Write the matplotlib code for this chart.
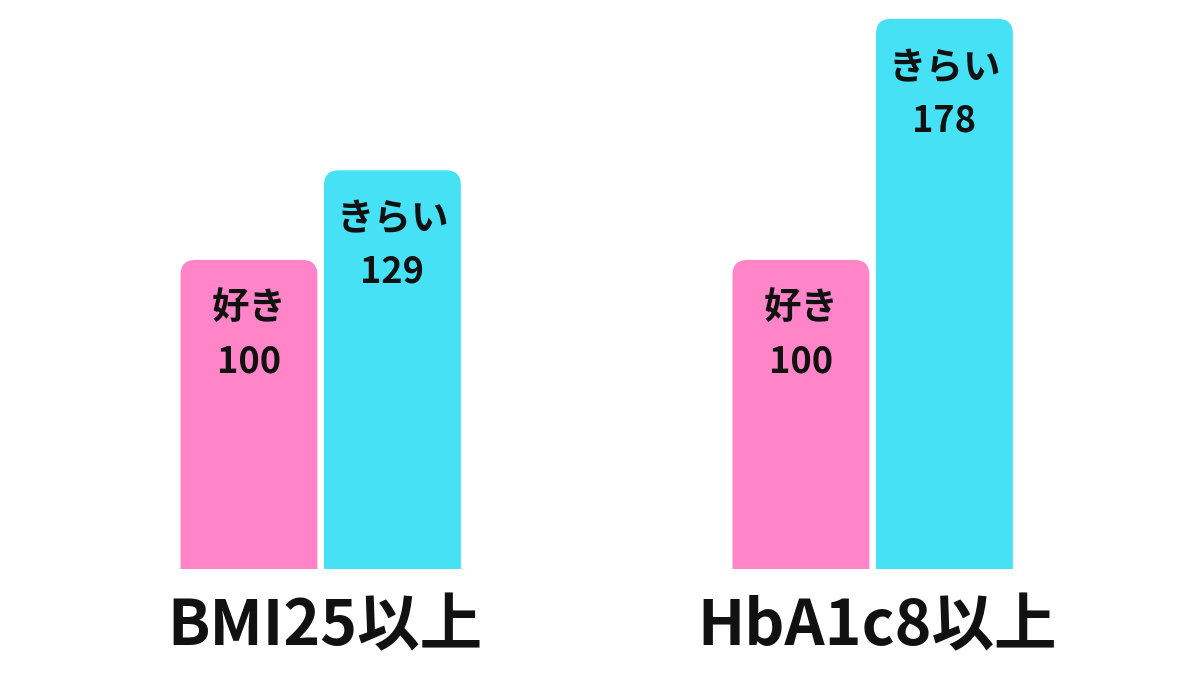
import numpy as np
import matplotlib
matplotlib.use('Agg')
import matplotlib.pyplot as plt
import matplotlib.patches as mpatches
import matplotlib.transforms as mtransforms

plt.rcParams['font.family'] = ['Noto Sans CJK JP', 'DejaVu Sans']

groups = ['BMI25以上', 'HbA1c8以上']
series_names = ['好き', 'きらい']
like_values = [100, 100]
dislike_values = [129, 178]
colors = ['#ff85c8', '#46e1f5']

fig = plt.figure(figsize=(12, 6.75), dpi=100)
ax = fig.add_axes([0, 0, 1, 1])
ax.set_xlim(-0.581, 1.593)
ax.set_ylim(-34.3, 184.1)
ax.axis('off')

x = np.arange(len(groups))
width = 0.248
offset = 0.130

bars_like = ax.bar(x - offset, like_values, width, color=colors[0])
bars_dislike = ax.bar(x + offset, dislike_values, width, color=colors[1])

# rounded top corners: swap each plain bar for a rounded one, clipped at y=0
fig.canvas.draw()
px_x = ax.transData.transform((1, 0))[0] - ax.transData.transform((0, 0))[0]
px_y = ax.transData.transform((0, 1))[1] - ax.transData.transform((0, 0))[1]
aspect = px_x / px_y
radius = 15 / px_x
below = 40 / px_y

clip = mpatches.Rectangle((-1, 0), 4, 300, transform=ax.transData)

for bars, name, color in [(bars_like, series_names[0], colors[0]),
                          (bars_dislike, series_names[1], colors[1])]:
    for bar in bars:
        bx, bw, bh = bar.get_x(), bar.get_width(), bar.get_height()
        bar.set_visible(False)
        rounded = mpatches.FancyBboxPatch(
            (bx, -below), bw, bh + below,
            boxstyle='round,pad=0,rounding_size=%f' % radius,
            mutation_aspect=aspect, facecolor=color, edgecolor='none')
        ax.add_patch(rounded)
        rounded.set_clip_path(clip)
        cx = bx + bw / 2
        t1 = mtransforms.offset_copy(ax.transData, fig=fig, y=-48, units='dots')
        t2 = mtransforms.offset_copy(ax.transData, fig=fig, y=-102, units='dots')
        ax.text(cx, bh, name, transform=t1, ha='center', va='center',
                fontsize=27, fontweight='bold', color='#111111')
        ax.text(cx, bh, '%d' % bh, transform=t2, ha='center', va='center',
                fontsize=26, fontweight='bold', color='#111111')

for xi, label in zip(x, groups):
    t = mtransforms.offset_copy(ax.transData, fig=fig, y=-58, units='dots')
    ax.text(xi + 0.008, 0, label, transform=t, ha='center', va='center',
            fontsize=45, fontweight='bold', color='#111111')

fig.savefig('out.png', dpi=100, facecolor='white')
